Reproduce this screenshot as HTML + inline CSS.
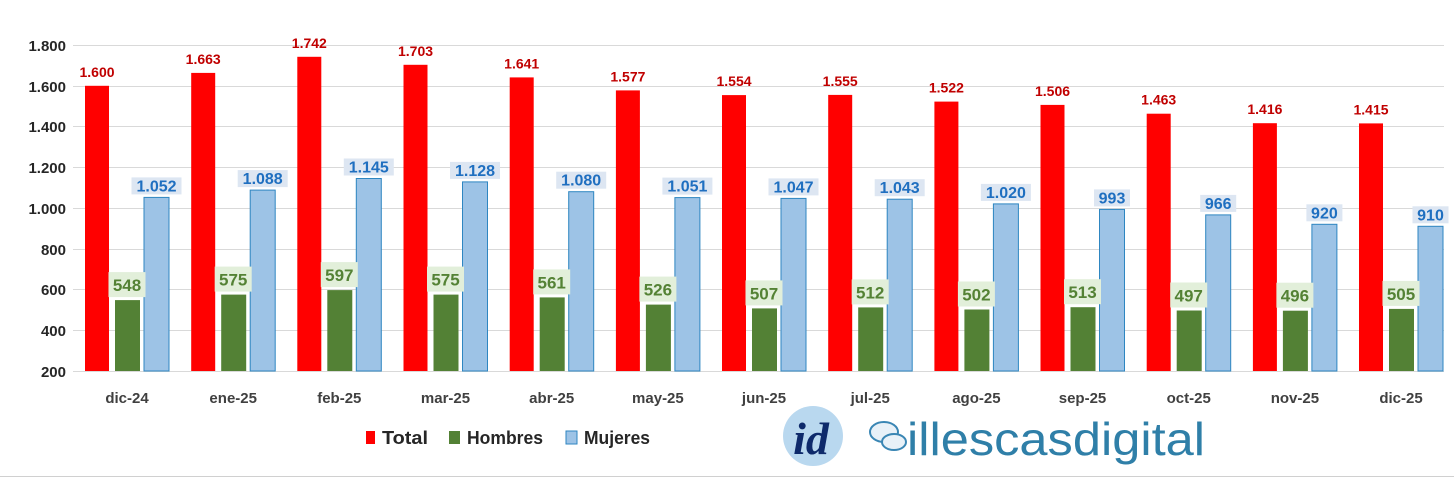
<!DOCTYPE html>
<html><head><meta charset="utf-8"><style>
body{margin:0;background:#fff}
svg{display:block;font-family:"Liberation Sans",sans-serif;font-weight:bold}
.r{fill:#c00000;font-size:14px}
.g{fill:#548235;font-size:17px}
.b{fill:#1f6fc0;font-size:16px}
.gb{fill:#e2efda}
.bb{fill:#dde6f2}
.ax{fill:#262626;font-size:15px}
.cx{fill:#404040;font-size:15px}
</style></head><body>
<svg width="1454" height="478" viewBox="0 0 1454 478">
<g stroke="#d9d9d9" stroke-width="1">
<line x1="73" x2="1444" y1="45.5" y2="45.5"/><line x1="73" x2="1444" y1="86.5" y2="86.5"/><line x1="73" x2="1444" y1="126.5" y2="126.5"/><line x1="73" x2="1444" y1="167.5" y2="167.5"/><line x1="73" x2="1444" y1="208.5" y2="208.5"/><line x1="73" x2="1444" y1="249.5" y2="249.5"/><line x1="73" x2="1444" y1="289.5" y2="289.5"/><line x1="73" x2="1444" y1="330.5" y2="330.5"/><line x1="73" x2="1444" y1="371.5" y2="371.5"/>
</g>
<g class="ax" text-anchor="end">
<text x="66" y="51">1.800</text><text x="66" y="92">1.600</text><text x="66" y="132">1.400</text><text x="66" y="173">1.200</text><text x="66" y="214">1.000</text><text x="66" y="255">800</text><text x="66" y="295">600</text><text x="66" y="336">400</text><text x="66" y="377">200</text>
</g>
<g transform="translate(85,0)"><rect x="0" y="85.8" width="24" height="285.2" fill="#ff0000"/><rect x="30" y="300.1" width="25" height="70.9" fill="#538135"/><rect x="59" y="197.4" width="25" height="173.6" fill="#9dc3e6" stroke="#2e86c1"/><text class="r" x="12" y="76.8" text-anchor="middle">1.600</text><rect class="gb" x="23.5" y="272.1" width="37" height="25"/><text class="g" x="42" y="291.1" text-anchor="middle">548</text><rect class="bb" x="46.5" y="177.4" width="50" height="17"/><text class="b" x="71.5" y="191.4" text-anchor="middle">1.052</text><text class="cx" x="42" y="403" text-anchor="middle">dic-24</text></g>
<g transform="translate(191.2,0)"><rect x="0" y="72.9" width="24" height="298.1" fill="#ff0000"/><rect x="30" y="294.6" width="25" height="76.4" fill="#538135"/><rect x="59" y="190.1" width="25" height="180.9" fill="#9dc3e6" stroke="#2e86c1"/><text class="r" x="12" y="63.9" text-anchor="middle">1.663</text><rect class="gb" x="23.5" y="266.6" width="37" height="25"/><text class="g" x="42" y="285.6" text-anchor="middle">575</text><rect class="bb" x="46.5" y="170.1" width="50" height="17"/><text class="b" x="71.5" y="184.1" text-anchor="middle">1.088</text><text class="cx" x="42" y="403" text-anchor="middle">ene-25</text></g>
<g transform="translate(297.3,0)"><rect x="0" y="56.8" width="24" height="314.2" fill="#ff0000"/><rect x="30" y="290.1" width="25" height="80.9" fill="#538135"/><rect x="59" y="178.5" width="25" height="192.5" fill="#9dc3e6" stroke="#2e86c1"/><text class="r" x="12" y="47.8" text-anchor="middle">1.742</text><rect class="gb" x="23.5" y="262.1" width="37" height="25"/><text class="g" x="42" y="281.1" text-anchor="middle">597</text><rect class="bb" x="46.5" y="158.5" width="50" height="17"/><text class="b" x="71.5" y="172.5" text-anchor="middle">1.145</text><text class="cx" x="42" y="403" text-anchor="middle">feb-25</text></g>
<g transform="translate(403.5,0)"><rect x="0" y="64.8" width="24" height="306.2" fill="#ff0000"/><rect x="30" y="294.6" width="25" height="76.4" fill="#538135"/><rect x="59" y="181.9" width="25" height="189.1" fill="#9dc3e6" stroke="#2e86c1"/><text class="r" x="12" y="55.8" text-anchor="middle">1.703</text><rect class="gb" x="23.5" y="266.6" width="37" height="25"/><text class="g" x="42" y="285.6" text-anchor="middle">575</text><rect class="bb" x="46.5" y="161.9" width="50" height="17"/><text class="b" x="71.5" y="175.9" text-anchor="middle">1.128</text><text class="cx" x="42" y="403" text-anchor="middle">mar-25</text></g>
<g transform="translate(509.7,0)"><rect x="0" y="77.4" width="24" height="293.6" fill="#ff0000"/><rect x="30" y="297.4" width="25" height="73.6" fill="#538135"/><rect x="59" y="191.7" width="25" height="179.3" fill="#9dc3e6" stroke="#2e86c1"/><text class="r" x="12" y="68.4" text-anchor="middle">1.641</text><rect class="gb" x="23.5" y="269.4" width="37" height="25"/><text class="g" x="42" y="288.4" text-anchor="middle">561</text><rect class="bb" x="46.5" y="171.7" width="50" height="17"/><text class="b" x="71.5" y="185.7" text-anchor="middle">1.080</text><text class="cx" x="42" y="403" text-anchor="middle">abr-25</text></g>
<g transform="translate(615.9,0)"><rect x="0" y="90.4" width="24" height="280.6" fill="#ff0000"/><rect x="30" y="304.6" width="25" height="66.4" fill="#538135"/><rect x="59" y="197.6" width="25" height="173.4" fill="#9dc3e6" stroke="#2e86c1"/><text class="r" x="12" y="81.4" text-anchor="middle">1.577</text><rect class="gb" x="23.5" y="276.6" width="37" height="25"/><text class="g" x="42" y="295.6" text-anchor="middle">526</text><rect class="bb" x="46.5" y="177.6" width="50" height="17"/><text class="b" x="71.5" y="191.6" text-anchor="middle">1.051</text><text class="cx" x="42" y="403" text-anchor="middle">may-25</text></g>
<g transform="translate(722,0)"><rect x="0" y="95.1" width="24" height="275.9" fill="#ff0000"/><rect x="30" y="308.4" width="25" height="62.6" fill="#538135"/><rect x="59" y="198.4" width="25" height="172.6" fill="#9dc3e6" stroke="#2e86c1"/><text class="r" x="12" y="86.1" text-anchor="middle">1.554</text><rect class="gb" x="23.5" y="280.4" width="37" height="25"/><text class="g" x="42" y="299.4" text-anchor="middle">507</text><rect class="bb" x="46.5" y="178.4" width="50" height="17"/><text class="b" x="71.5" y="192.4" text-anchor="middle">1.047</text><text class="cx" x="42" y="403" text-anchor="middle">jun-25</text></g>
<g transform="translate(828.2,0)"><rect x="0" y="94.9" width="24" height="276.1" fill="#ff0000"/><rect x="30" y="307.4" width="25" height="63.6" fill="#538135"/><rect x="59" y="199.2" width="25" height="171.8" fill="#9dc3e6" stroke="#2e86c1"/><text class="r" x="12" y="85.9" text-anchor="middle">1.555</text><rect class="gb" x="23.5" y="279.4" width="37" height="25"/><text class="g" x="42" y="298.4" text-anchor="middle">512</text><rect class="bb" x="46.5" y="179.2" width="50" height="17"/><text class="b" x="71.5" y="193.2" text-anchor="middle">1.043</text><text class="cx" x="42" y="403" text-anchor="middle">jul-25</text></g>
<g transform="translate(934.4,0)"><rect x="0" y="101.6" width="24" height="269.4" fill="#ff0000"/><rect x="30" y="309.5" width="25" height="61.5" fill="#538135"/><rect x="59" y="203.9" width="25" height="167.1" fill="#9dc3e6" stroke="#2e86c1"/><text class="r" x="12" y="92.6" text-anchor="middle">1.522</text><rect class="gb" x="23.5" y="281.5" width="37" height="25"/><text class="g" x="42" y="300.5" text-anchor="middle">502</text><rect class="bb" x="46.5" y="183.9" width="50" height="17"/><text class="b" x="71.5" y="197.9" text-anchor="middle">1.020</text><text class="cx" x="42" y="403" text-anchor="middle">ago-25</text></g>
<g transform="translate(1040.5,0)"><rect x="0" y="104.9" width="24" height="266.1" fill="#ff0000"/><rect x="30" y="307.2" width="25" height="63.8" fill="#538135"/><rect x="59" y="209.4" width="25" height="161.6" fill="#9dc3e6" stroke="#2e86c1"/><text class="r" x="12" y="95.9" text-anchor="middle">1.506</text><rect class="gb" x="23.5" y="279.2" width="37" height="25"/><text class="g" x="42" y="298.2" text-anchor="middle">513</text><rect class="bb" x="53.5" y="189.4" width="36" height="17"/><text class="b" x="71.5" y="203.4" text-anchor="middle">993</text><text class="cx" x="42" y="403" text-anchor="middle">sep-25</text></g>
<g transform="translate(1146.7,0)"><rect x="0" y="113.7" width="24" height="257.3" fill="#ff0000"/><rect x="30" y="310.5" width="25" height="60.5" fill="#538135"/><rect x="59" y="214.9" width="25" height="156.1" fill="#9dc3e6" stroke="#2e86c1"/><text class="r" x="12" y="104.7" text-anchor="middle">1.463</text><rect class="gb" x="23.5" y="282.5" width="37" height="25"/><text class="g" x="42" y="301.5" text-anchor="middle">497</text><rect class="bb" x="53.5" y="194.9" width="36" height="17"/><text class="b" x="71.5" y="208.9" text-anchor="middle">966</text><text class="cx" x="42" y="403" text-anchor="middle">oct-25</text></g>
<g transform="translate(1252.9,0)"><rect x="0" y="123.2" width="24" height="247.8" fill="#ff0000"/><rect x="30" y="310.7" width="25" height="60.3" fill="#538135"/><rect x="59" y="224.3" width="25" height="146.7" fill="#9dc3e6" stroke="#2e86c1"/><text class="r" x="12" y="114.2" text-anchor="middle">1.416</text><rect class="gb" x="23.5" y="282.7" width="37" height="25"/><text class="g" x="42" y="301.7" text-anchor="middle">496</text><rect class="bb" x="53.5" y="204.3" width="36" height="17"/><text class="b" x="71.5" y="218.3" text-anchor="middle">920</text><text class="cx" x="42" y="403" text-anchor="middle">nov-25</text></g>
<g transform="translate(1359,0)"><rect x="0" y="123.4" width="24" height="247.6" fill="#ff0000"/><rect x="30" y="308.9" width="25" height="62.1" fill="#538135"/><rect x="59" y="226.3" width="25" height="144.7" fill="#9dc3e6" stroke="#2e86c1"/><text class="r" x="12" y="114.4" text-anchor="middle">1.415</text><rect class="gb" x="23.5" y="280.9" width="37" height="25"/><text class="g" x="42" y="299.9" text-anchor="middle">505</text><rect class="bb" x="53.5" y="206.3" width="36" height="17"/><text class="b" x="71.5" y="220.3" text-anchor="middle">910</text><text class="cx" x="42" y="403" text-anchor="middle">dic-25</text></g>
<g font-size="18" fill="#262626">
<rect x="366" y="431" width="9" height="13" fill="#ff0000"/><text x="382" y="444" textLength="46" lengthAdjust="spacingAndGlyphs">Total</text>
<rect x="449" y="431" width="11" height="13" fill="#538135"/><text x="467" y="444" textLength="76" lengthAdjust="spacingAndGlyphs">Hombres</text>
<rect x="566" y="431" width="11" height="13" fill="#9dc3e6" stroke="#2e86c1"/><text x="584" y="444" textLength="66" lengthAdjust="spacingAndGlyphs">Mujeres</text>
</g>
<circle cx="813" cy="436" r="30" fill="#b9d8ef"/>
<text x="811" y="454" text-anchor="middle" font-size="46" font-style="italic" fill="#0e2a6b" font-family="Liberation Serif,serif">id</text>
<g fill="#e8f1f8" stroke="#3a86b4" stroke-width="2">
<ellipse cx="884" cy="432" rx="14" ry="10"/><ellipse cx="894" cy="442" rx="12" ry="8"/>
</g>
<text x="907" y="455" font-size="46" font-weight="normal" fill="#2f7fa8" textLength="298" lengthAdjust="spacingAndGlyphs">illescasdigital</text>
<line x1="0" x2="1454" y1="476.5" y2="476.5" stroke="#d0d0d0"/>
</svg>
</body></html>
